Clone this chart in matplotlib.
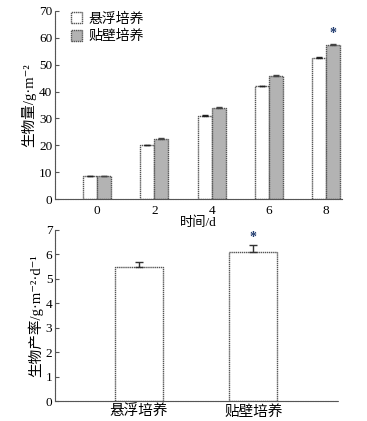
import matplotlib
matplotlib.use("Agg")
import matplotlib.pyplot as plt
import numpy as np

plt.rcParams['font.family'] = ['Liberation Serif', 'Noto Sans CJK SC', 'DejaVu Sans']

days = [0, 2, 4, 6, 8]
susp = [8.7, 20.0, 31.0, 42.0, 52.5]
susp_err = [0.0, 0.3, 0.2, 0.2, 0.2]
att = [8.7, 22.5, 34.0, 45.7, 57.5]
att_err = [0.0, 0.4, 0.4, 0.3, 0.3]
labels = ['悬浮培养', '贴壁培养']

rate = [5.5, 6.1]
rate_err = [0.18, 0.3]

edge = '#555555'
fig = plt.figure(figsize=(3.67, 4.21), dpi=100)

def upper(e):
    return [np.zeros(len(e)), e]

ax1 = fig.add_axes([0.150, 0.527, 0.782, 0.447])
x = np.array(days, dtype=float)
w = 0.49
ax1.bar(x - w/2, susp, w, color='white', edgecolor=edge, linewidth=1, linestyle=(0, (1, 0.5)),
        yerr=upper(susp_err), error_kw=dict(ecolor='#222222', capsize=2.5, elinewidth=1), label=labels[0])
ax1.bar(x + w/2, att, w, color='#b3b3b3', edgecolor=edge, linewidth=1, linestyle=(0, (1, 0.5)),
        yerr=upper(att_err), error_kw=dict(ecolor='#444444', capsize=2.5, elinewidth=1), label=labels[1])
ax1.text(8 + w/2, 59.3, '*', ha='center', va='bottom', fontsize=10, color='#1f3a6e', fontweight='bold')
ax1.set_xlim(-1.47, 8.56)
ax1.set_ylim(0, 70)
ax1.set_yticks(range(0, 71, 10))
ax1.set_xticks(days)
ax1.tick_params(axis='x', length=0, labelsize=9.5, pad=4)
ax1.tick_params(axis='y', direction='in', length=3, labelsize=9.5, pad=2, color=edge)
for s in ['top', 'right']:
    ax1.spines[s].set_visible(False)
for s in ['left', 'bottom']:
    ax1.spines[s].set_color(edge)
    ax1.spines[s].set_linestyle((0, (1, 0.5)))
ax1.set_xlabel('时间/d', fontsize=9.5, labelpad=0)
ax1.set_ylabel('生物量/g·m⁻²', fontsize=10.5, labelpad=2)
ax1.legend(loc='upper left', frameon=False, fontsize=10, handlelength=0.8, handleheight=0.8,
           handletextpad=0.5, borderaxespad=0.1, labelspacing=0.3, bbox_to_anchor=(0.03, 1.03))

ax2 = fig.add_axes([0.150, 0.0475, 0.771, 0.4065])
xp = np.arange(1, len(rate) + 1)
ax2.bar(xp, rate, 0.42, color='white', edgecolor=edge, linewidth=1, linestyle=(0, (1, 0.5)),
        yerr=upper(rate_err), error_kw=dict(ecolor='#333333', capsize=3, elinewidth=1))
ax2.text(2, 6.42, '*', ha='center', va='bottom', fontsize=10, color='#1f3a6e', fontweight='bold')
ax2.set_xlim(0.27, 2.74)
ax2.set_ylim(0, 7)
ax2.set_yticks(range(0, 8))
ax2.set_xticks(xp)
ax2.set_xticklabels(labels)
ax2.tick_params(axis='x', length=0, labelsize=10.5, pad=3)
ax2.tick_params(axis='y', direction='in', length=3, labelsize=9.5, pad=2, color=edge)
for s in ['top', 'right']:
    ax2.spines[s].set_visible(False)
for s in ['left', 'bottom']:
    ax2.spines[s].set_color(edge)
    ax2.spines[s].set_linestyle((0, (1, 0.5)))
ax2.set_ylabel('生物产率/g·m⁻²·d⁻¹', fontsize=10.5, labelpad=2)

fig.savefig('out.png', dpi=100)
